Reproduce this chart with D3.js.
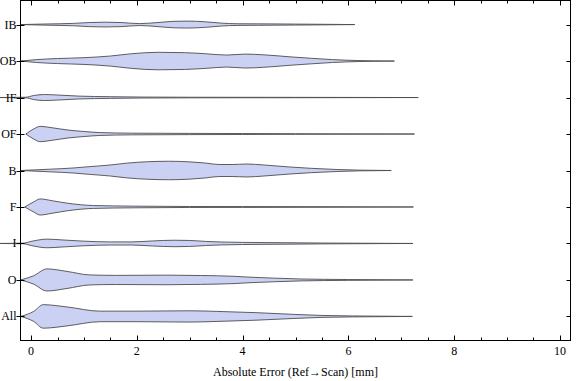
<!DOCTYPE html>
<html>
<head>
<meta charset="utf-8">
<script src="https://cdn.jsdelivr.net/npm/d3@7"></script>
<style>
  html, body { margin: 0; padding: 0; background: #fff; }
  svg { display: block; }
  text { font-family: "Liberation Serif", "Times New Roman", serif; font-size: 12px; fill: #000; }
</style>
</head>
<body>
<svg id="chart" width="576" height="381"></svg>
<script>
// ---- data ----
const categories = ["IB", "OB", "IF", "OF", "B", "F", "I", "O", "All"];
const xTicksMajor = [0, 2, 4, 6, 8, 10];
const xTickLabels = ["0", "2", "4", "6", "8", "10"];
const xTicksMinor = [0.5, 1, 1.5, 2.5, 3, 3.5, 4.5, 5, 5.5, 6.5, 7, 7.5, 8.5, 9, 9.5];
const xTitle = "Absolute Error (Ref\u2192Scan) [mm]";

// density profiles: [error (mm), relative density]
const densIB = [[-0.2,0],[0.3,0.05],[0.8,0.1],[1.1,0.17],[1.4,0.2],[1.7,0.17],[2.05,0.08],[2.4,0.17],[2.7,0.27],[2.95,0.29],[3.3,0.23],[3.6,0.12],[3.9,0.07],[4.3,0.06],[5.0,0.04],[5.5,0.025],[6.12,0]];
const densOB = [[-0.2,0],[0.1,0.12],[0.5,0.21],[1.0,0.28],[1.5,0.42],[1.9,0.61],[2.4,0.73],[2.9,0.7],[3.3,0.61],[3.7,0.5],[4.05,0.58],[4.4,0.52],[4.9,0.35],[5.3,0.23],[5.7,0.12],[6.2,0.04],[6.5,0.02],[6.87,0]];
const densIF = [[-0.59,0],[-0.1,0.025],[0.05,0.17],[0.25,0.25],[0.5,0.21],[0.9,0.12],[1.5,0.07],[2.1,0.04],[3.0,0.025],[5.0,0.015],[7.32,0]];
const densOF = [[-0.1,0],[0.05,0.42],[0.17,0.64],[0.4,0.52],[0.7,0.33],[1.0,0.21],[1.3,0.12],[1.9,0.07],[3.0,0.05],[4.0,0.04],[5.0,0.025],[7.25,0]];
const densB = [[-0.2,0],[0.36,0.11],[0.8,0.21],[1.1,0.32],[1.5,0.46],[1.8,0.61],[2.2,0.73],[2.6,0.77],[3.0,0.72],[3.3,0.62],[3.55,0.5],[3.8,0.5],[4.08,0.54],[4.4,0.46],[4.9,0.29],[5.3,0.18],[5.8,0.08],[6.2,0.03],[6.81,0]];
const densF = [[-0.12,0],[0.05,0.42],[0.17,0.67],[0.4,0.52],[0.68,0.32],[1.18,0.12],[1.93,0.07],[3.0,0.04],[4.0,0.035],[5.5,0.025],[7.23,0]];
const densI = [[-0.59,0],[-0.15,0.025],[0.0,0.17],[0.3,0.36],[0.6,0.29],[1.0,0.19],[1.5,0.13],[1.9,0.13],[2.3,0.21],[2.7,0.27],[3.0,0.25],[3.3,0.17],[3.6,0.12],[4.0,0.09],[4.5,0.07],[5.5,0.035],[7.22,0]];
const densO = [[-0.2,0],[0.04,0.33],[0.3,0.92],[0.68,0.71],[1.1,0.42],[1.6,0.38],[2.57,0.4],[3.2,0.37],[3.8,0.31],[4.14,0.23],[4.6,0.15],[5.1,0.08],[6.0,0.035],[7.22,0]];
const densAll = [[-0.2,0],[0.05,0.42],[0.23,0.98],[0.68,0.79],[1.3,0.44],[2.0,0.44],[3.0,0.47],[3.5,0.42],[4.27,0.31],[4.97,0.17],[5.5,0.08],[6.08,0.04],[7.21,0]];
const profiles = [densIB, densOB, densIF, densOF, densB, densF, densI, densO, densAll];

// ---- layout ----
const L = 20.5, R = 570.5, T = 0.5, B = 340.5;
const svg = d3.select("#chart");

const x = d3.scaleLinear().domain([-0.2, 10.2]).range([L, R]);
const y = d3.scalePoint().domain(categories).range([T, B]).padding(0.66);
const w = d3.scaleLinear().domain([0, 1]).range([0, 12]);

// violins
const g = svg.append("g");
categories.forEach((c, i) => {
  const cy = y(c);
  const area = d3.area()
    .x(d => x(d[0]))
    .y0(d => cy - w(d[1]))
    .y1(d => cy + w(d[1]))
    .curve(d3.curveMonotoneX);
  g.append("path")
    .attr("d", area(profiles[i]))
    .attr("fill", "#cbd1f3")
    .attr("stroke", "#4d4d4d")
    .attr("stroke-width", 0.9)
    .attr("stroke-linejoin", "round");
});

// frame
svg.append("rect")
  .attr("x", L).attr("y", T).attr("width", R - L).attr("height", B - T)
  .attr("fill", "none").attr("stroke", "#000").attr("stroke-width", 1);

// x ticks bottom and top
const axisG = svg.append("g").attr("stroke", "#000").attr("stroke-width", 1);
xTicksMajor.forEach(v => {
  const px = Math.round(x(v)) + 0.5;
  axisG.append("line").attr("x1", px).attr("x2", px).attr("y1", B).attr("y2", B - 5);
  axisG.append("line").attr("x1", px).attr("x2", px).attr("y1", T).attr("y2", T + 5);
});
xTicksMinor.forEach(v => {
  const px = Math.round(x(v)) + 0.5;
  axisG.append("line").attr("x1", px).attr("x2", px).attr("y1", B).attr("y2", B - 3);
  axisG.append("line").attr("x1", px).attr("x2", px).attr("y1", T).attr("y2", T + 3);
});
// y ticks
categories.forEach(c => {
  const py = Math.round(y(c)) + 0.5;
  axisG.append("line").attr("x1", L - 4).attr("x2", L + 4).attr("y1", py).attr("y2", py);
  axisG.append("line").attr("x1", R).attr("x2", R - 4).attr("y1", py).attr("y2", py);
});

// tick labels
svg.append("g").selectAll("text").data(xTicksMajor).join("text")
  .attr("x", d => x(d)).attr("y", 355)
  .attr("text-anchor", "middle")
  .text((d, i) => xTickLabels[i]);

svg.append("g").selectAll("text").data(categories).join("text")
  .attr("x", 16.5).attr("y", d => y(d) + 4)
  .attr("text-anchor", "end")
  .text(d => d);

svg.append("text")
  .attr("x", (x(0) + x(10)) / 2).attr("y", 376)
  .attr("text-anchor", "middle")
  .text(xTitle);
</script>
</body>
</html>
